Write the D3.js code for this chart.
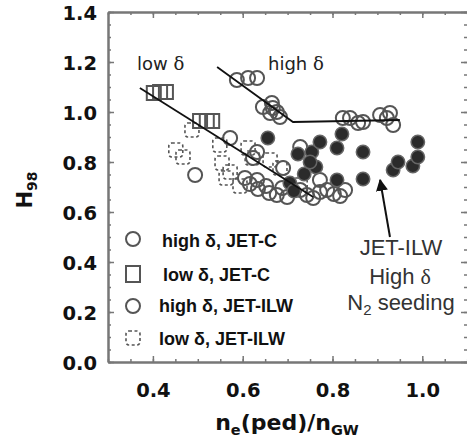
<!DOCTYPE html>
<html><head><meta charset="utf-8">
<script src="https://cdn.jsdelivr.net/npm/d3@7"></script>
<style>body{margin:0;background:#fff}svg{display:block}</style>
</head><body>
<svg id="c" width="467" height="439"></svg>
<script>
// ---- data ----
const xTickLabels = [0.4, 0.6, 0.8, 1.0];
const yTickLabels = [0.0, 0.2, 0.4, 0.6, 0.8, 1.0, 1.2, 1.4];

const highDeltaJetC = [
  [0.587,1.128],[0.612,1.136],[0.632,1.136],
  [0.645,1.02],[0.665,1.036],[0.667,1.016],[0.676,1.0],[0.683,0.98],[0.661,0.996],
  [0.823,0.976],[0.839,0.976],[0.857,0.956],[0.868,0.96],[0.906,0.988],[0.928,0.996],[0.935,0.948],[0.921,0.976]
];
const lowDeltaJetC = [
  [0.402,1.076],[0.416,1.08],[0.429,1.08],
  [0.505,0.964],[0.520,0.964],[0.532,0.964]
];
const highDeltaJetILW = [
  [0.494,0.748],[0.572,0.896],[0.632,0.84],[0.623,0.816],[0.605,0.736],[0.616,0.712],
  [0.632,0.728],[0.634,0.692],[0.652,0.704],[0.659,0.676],[0.676,0.668],[0.688,0.696],
  [0.690,0.776],[0.699,0.66],[0.728,0.86],[0.728,0.688],[0.743,0.668],[0.757,0.656],
  [0.772,0.728],[0.772,0.68],[0.788,0.688],[0.803,0.672],[0.817,0.664],[0.828,0.688]
];
const lowDeltaJetILW = [
  [0.451,0.848],[0.467,0.82],[0.487,0.928],[0.549,0.868],[0.554,0.796],[0.572,0.76],
  [0.563,0.736],[0.594,0.704],[0.612,0.856],[0.621,0.816],[0.661,0.808],[0.683,0.776],[0.728,0.708]
];
const n2Seeding = [
  [0.656,0.896],[0.723,0.832],[0.754,0.84],[0.772,0.88],[0.763,0.78],[0.737,0.752],
  [0.750,0.80],[0.810,0.856],[0.821,0.912],[0.868,0.84],[0.868,0.732],[0.810,0.728],
  [0.705,0.716],[0.714,0.684],[0.935,0.768],[0.946,0.80],[0.979,0.784],[0.990,0.88],[0.990,0.82]
];
const lowDeltaFit = [[0.371,1.096],[0.757,0.66]];
const highDeltaFit = [[0.543,1.18],[0.712,0.96],[0.950,0.968]];
const arrowFrom = [0.928,0.50];
const arrowTo = [0.906,0.728];
const legendLabels = ["high δ, JET-C","low δ, JET-C","high δ, JET-ILW","low δ, JET-ILW"];

// ---- layout ----
const svg = d3.select("#c");
const x = d3.scaleLinear().domain([0.3,1.1]).range([108,467.2]);
const y = d3.scaleLinear().domain([0,1.4]).range([362,12]);
const axisCol = "#777", markCol = "#555";
const rightEdge = 469;

// frame & ticks
const g = svg.append("g");
function styleAxis(sel){ sel.select(".domain").attr("stroke",axisCol).attr("stroke-width",2);
  sel.selectAll(".tick line").attr("stroke",axisCol).attr("stroke-width",1.5); }
const xMinor = d3.range(0.3,1.1001,0.05);
const yMinor = d3.range(0,1.4001,0.05);
// minor
g.append("g").attr("transform","translate(0,362)").call(d3.axisBottom(x).tickValues(xMinor).tickSize(-3).tickFormat("").tickSizeOuter(0)).call(styleAxis);
g.append("g").attr("transform","translate(0,12)").call(d3.axisTop(x).tickValues(xMinor).tickSize(-3).tickFormat("").tickSizeOuter(0)).call(styleAxis);
g.append("g").attr("transform","translate(108,0)").call(d3.axisLeft(y).tickValues(yMinor).tickSize(-3).tickFormat("").tickSizeOuter(0)).call(styleAxis);
g.append("g").attr("transform","translate("+rightEdge+",0)").call(d3.axisRight(y).tickValues(yMinor).tickSize(-5).tickFormat("").tickSizeOuter(0)).call(styleAxis);
// major
const xb = g.append("g").attr("transform","translate(0,362)").call(d3.axisBottom(x).tickValues(xTickLabels).tickSize(-6).tickSizeOuter(0).tickFormat(d3.format(".1f"))).call(styleAxis);
g.append("g").attr("transform","translate(0,12)").call(d3.axisTop(x).tickValues(xTickLabels).tickSize(-6).tickFormat("").tickSizeOuter(0)).call(styleAxis);
const yl = g.append("g").attr("transform","translate(108,0)").call(d3.axisLeft(y).tickValues(yTickLabels).tickSize(-6).tickSizeOuter(0).tickFormat(d3.format(".1f"))).call(styleAxis);
g.append("g").attr("transform","translate("+rightEdge+",0)").call(d3.axisRight(y).tickValues(yTickLabels).tickSize(-8).tickFormat("").tickSizeOuter(0)).call(styleAxis);
xb.selectAll(".tick text").attr("y",35).attr("dy",0).attr("font-family","DejaVu Sans").attr("font-weight","bold").attr("font-size",19.5).attr("fill","#111");
yl.selectAll(".tick text").attr("x",-11).attr("dy","0.36em").attr("font-family","DejaVu Sans").attr("font-weight","bold").attr("font-size",19.5).attr("fill","#111");

// axis titles
const yt = svg.append("text").attr("transform","translate(32,190) rotate(-90)").attr("text-anchor","middle")
  .attr("font-family","DejaVu Sans").attr("font-weight","bold").attr("font-size",21).attr("fill","#111");
yt.append("tspan").text("H");
yt.append("tspan").attr("font-size",14).attr("dy",5).text("98");
const xt = svg.append("text").attr("x",287).attr("y",430).attr("text-anchor","middle")
  .attr("font-family","DejaVu Sans").attr("font-size",22).attr("font-weight","600").attr("fill","#111");
xt.append("tspan").text("n");
xt.append("tspan").attr("font-size",14.5).attr("dy",5).text("e");
xt.append("tspan").attr("dy",-5).text("(ped)/n");
xt.append("tspan").attr("font-size",14.5).attr("dy",5).text("GW");

// markers
const pts = svg.append("g");
function circles(data, r, fill, stroke, sw){
  pts.append("g").selectAll("circle").data(data).join("circle")
    .attr("cx",d=>x(d[0])).attr("cy",d=>y(d[1])).attr("r",r)
    .attr("fill",fill).attr("stroke",stroke).attr("stroke-width",sw);
}
function squares(data, s, dashed){
  pts.append("g").selectAll("rect").data(data).join("rect")
    .attr("x",d=>x(d[0])-s/2).attr("y",d=>y(d[1])-s/2).attr("width",s).attr("height",s)
    .attr("rx",dashed?3:0).attr("fill","none").attr("stroke",markCol)
    .attr("stroke-width",dashed?1.6:2).attr("stroke-dasharray",dashed?"3,2.5":null);
}
squares(lowDeltaJetILW,14,true);
squares(lowDeltaJetC,14,false);
circles(highDeltaJetILW,7,"none",markCol,2);
circles(highDeltaJetC,7,"none",markCol,2);
circles(n2Seeding,6.7,"#2b2b2b","#666",1.5);

// fit lines
const line = d3.line().x(d=>x(d[0])).y(d=>y(d[1]));
svg.append("path").attr("d",line(lowDeltaFit)).attr("fill","none").attr("stroke","#111").attr("stroke-width",1.8);
svg.append("path").attr("d",line(highDeltaFit)).attr("fill","none").attr("stroke","#111").attr("stroke-width",1.8);

// annotations
function delta(pre, xx, yy, size){
  const tx = svg.append("text").attr("x",xx).attr("y",yy).attr("font-family","DejaVu Sans")
    .attr("font-size",size).attr("fill","#222");
  tx.append("tspan").text(pre);
  tx.append("tspan").attr("font-family","DejaVu Serif").text("δ");
  return tx;
}
delta("low ",137,70,18);
delta("high ",268,70,18);

// arrow
svg.append("defs").append("marker").attr("id","ah").attr("viewBox","0 0 10 10").attr("refX",9).attr("refY",5)
  .attr("markerWidth",6).attr("markerHeight",6).attr("orient","auto")
  .append("path").attr("d","M0,0L10,5L0,10z").attr("fill","#111");
svg.append("line").attr("x1",x(arrowFrom[0])).attr("y1",y(arrowFrom[1])).attr("x2",x(arrowTo[0])).attr("y2",y(arrowTo[1]))
  .attr("stroke","#111").attr("stroke-width",2).attr("marker-end","url(#ah)");

const ann = svg.append("g").attr("font-family","Liberation Sans").attr("font-size",22).attr("fill","#333").attr("text-anchor","middle");
ann.append("text").attr("x",401).attr("y",255).text("JET-ILW");
const hd = ann.append("text").attr("x",400).attr("y",284);
hd.append("tspan").text("High ");
hd.append("tspan").attr("font-family","Liberation Serif").text("δ");
const ns = ann.append("text").attr("x",401).attr("y",310);
ns.append("tspan").text("N");
ns.append("tspan").attr("font-size",15).attr("dy",5).text("2");
ns.append("tspan").attr("dy",-5).text(" seeding");

// legend
const leg = svg.append("g");
const legY = [239,274,306,338];
const legTX = [162,163,159,159];
const legBase = [247,281,312,345];
leg.append("circle").attr("cx",133).attr("cy",legY[0]).attr("r",7).attr("fill","none").attr("stroke",markCol).attr("stroke-width",2);
leg.append("rect").attr("x",126).attr("y",legY[1]-8).attr("width",14).attr("height",16).attr("fill","none").attr("stroke",markCol).attr("stroke-width",2);
leg.append("circle").attr("cx",133).attr("cy",legY[2]).attr("r",7).attr("fill","none").attr("stroke",markCol).attr("stroke-width",2);
leg.append("rect").attr("x",126).attr("y",legY[3]-7).attr("width",14).attr("height",14).attr("rx",3).attr("fill","none").attr("stroke",markCol).attr("stroke-width",1.6).attr("stroke-dasharray","3,2.5");
leg.selectAll("text").data(legendLabels).join("text")
  .attr("x",(d,i)=>legTX[i]).attr("y",(d,i)=>legBase[i])
  .attr("font-family","Liberation Sans").attr("font-weight","bold").attr("font-size",18).attr("fill","#111")
  .text(d=>d);
</script>
</body></html>
